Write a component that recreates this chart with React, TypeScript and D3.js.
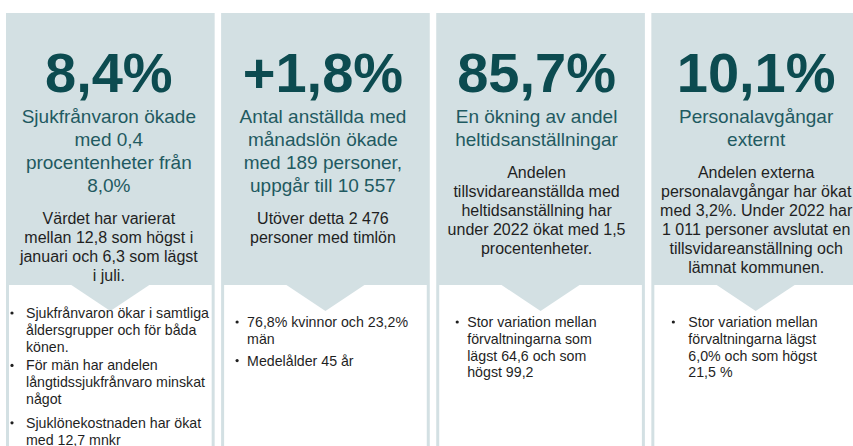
import React from "react";
import * as d3 from "d3";

// ---------- data ----------
const panelKeys = ["sjukfranvaro", "anstallda", "heltid", "avgangar"];

const headlineValues = ["8,4%", "+1,8%", "85,7%", "10,1%"];

const subtitleLines = [
  ["Sjukfrånvaron ökade", "med 0,4", "procentenheter från", "8,0%"],
  ["Antal anställda med", "månadslön ökade", "med 189 personer,", "uppgår till 10 557"],
  ["En ökning av andel", "heltidsanställningar"],
  ["Personalavgångar", "externt"],
];

const bodyLines = [
  ["Värdet har varierat", "mellan 12,8 som högst i", "januari och 6,3 som lägst", "i juli."],
  ["Utöver detta 2 476", "personer med timlön"],
  ["Andelen", "tillsvidareanställda med", "heltidsanställning har", "under 2022 ökat med 1,5", "procentenheter."],
  ["Andelen externa", "personalavgångar har ökat", "med 3,2%. Under 2022 har", "1 011 personer avslutat en", "tillsvidareanställning och", "lämnat kommunen."],
];

const bulletItems = [
  [
    ["Sjukfrånvaron ökar i samtliga", "åldersgrupper och för båda", "könen."],
    ["För män har andelen", "långtidssjukfrånvaro minskat", "något"],
    ["Sjuklönekostnaden har ökat", "med 12,7 mnkr"],
  ],
  [
    ["76,8% kvinnor och 23,2%", "män"],
    ["Medelålder 45 år"],
  ],
  [
    ["Stor variation mellan", "förvaltningarna som", "lägst 64,6 och som", "högst 99,2"],
  ],
  [
    ["Stor variation mellan", "förvaltningarna lägst", "6,0% och som högst", "21,5 %"],
  ],
];

// ---------- layout / style ----------
const W = 853;
const H = 446;
const FONT = "'Liberation Sans', Arial, Helvetica, sans-serif";
const PANEL_BG = "#d3e0e3";
const BIG_COLOR = "#0c4b50";
const SUB_COLOR = "#1f5a61";
const TEXT_COLOR = "#1f1f1f";

const panelTop = 13;
const innerTop = 285;
const innerInset = 3;
const notchHalf = 39;
const notchDepth = 26;

const bigBaseline = 92;
const subBaseline = 123;
const subLineH = 23;
const bodyGap = 31.5;
const bodyLineH = 19.1;

const bulletTop = [318, 327, 327, 327];
const bulletLineH = 16.8;
const bulletGaps = [[0, 2, 7], [0, 5], [0], [0]];
const bulletDotDx = [6, 16, 21, 22];
const bulletTextDx = [20, 26, 31, 37];
const textShift = [-1.5, -2.5, -4, 0.5];

export default function App() {
  const x = d3
    .scaleBand<string>()
    .domain(panelKeys)
    .range([6, 860])
    .paddingInner(0.03)
    .paddingOuter(0);
  const bw = x.bandwidth();

  return (
    <div style={{ position: "absolute", left: 0, top: 0, width: W, height: H, overflow: "hidden", background: "#fff" }}>
      <svg width={W} height={H} style={{ display: "block", fontFamily: FONT }}>
        <rect x={0} y={0} width={W} height={H} fill="#ffffff" />
        {panelKeys.map((key, i) => {
          const x0 = x(key) as number;
          const cx = x0 + bw / 2;
          const tx = cx + textShift[i];
          const subs = subtitleLines[i];
          const body = bodyLines[i];
          const bodyStart = subBaseline + (subs.length - 1) * subLineH + bodyGap;
          const notch = d3.line()([
            [cx - notchHalf, innerTop],
            [cx + notchHalf, innerTop],
            [cx, innerTop + notchDepth],
          ]) + "Z";

          // bullet layout
          let y = bulletTop[i];
          const bullets = bulletItems[i].map((lines, j) => {
            y += bulletGaps[i][j] || 0;
            const startY = y;
            y += lines.length * bulletLineH;
            return { lines, startY };
          });

          return (
            <g key={key}>
              <rect x={x0} y={panelTop} width={bw} height={H - panelTop + 10} fill={PANEL_BG} />
              <rect
                x={x0 + innerInset}
                y={innerTop}
                width={bw - innerInset * 2}
                height={H - innerTop + 10}
                fill="#ffffff"
              />
              <path d={notch} fill={PANEL_BG} />
              <text
                x={tx}
                y={bigBaseline}
                textAnchor="middle"
                fontSize={56}
                fontWeight={700}
                fill={BIG_COLOR}
              >
                {headlineValues[i]}
              </text>
              {subs.map((s, k) => (
                <text
                  key={"s" + k}
                  x={tx}
                  y={subBaseline + k * subLineH}
                  textAnchor="middle"
                  fontSize={19}
                  fill={SUB_COLOR}
                >
                  {s}
                </text>
              ))}
              {body.map((s, k) => (
                <text
                  key={"b" + k}
                  x={tx}
                  y={bodyStart + k * bodyLineH}
                  textAnchor="middle"
                  fontSize={16}
                  fill={TEXT_COLOR}
                >
                  {s}
                </text>
              ))}
              {bullets.map((b, j) => (
                <g key={"bl" + j}>
                  <circle cx={x0 + bulletDotDx[i]} cy={b.startY - 5} r={1.6} fill={TEXT_COLOR} />
                  {b.lines.map((s, k) => (
                    <text
                      key={k}
                      x={x0 + bulletTextDx[i]}
                      y={b.startY + k * bulletLineH}
                      fontSize={14.2}
                      fill={TEXT_COLOR}
                    >
                      {s}
                    </text>
                  ))}
                </g>
              ))}
            </g>
          );
        })}
      </svg>
    </div>
  );
}
